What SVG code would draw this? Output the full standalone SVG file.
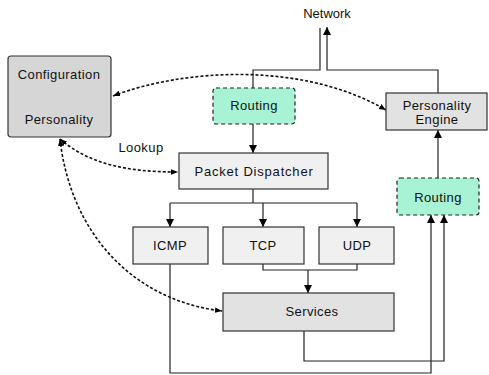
<svg xmlns="http://www.w3.org/2000/svg" width="489" height="375" viewBox="0 0 489 375">
<defs>
<marker id="ah" viewBox="0 0 10 10" refX="10" refY="5" markerWidth="8" markerHeight="8" markerUnits="userSpaceOnUse" orient="auto"><path d="M0,0 L10,5 L0,10 z" fill="#000"/></marker>
<marker id="ad" viewBox="0 0 10 10" refX="10" refY="5" markerWidth="7" markerHeight="7" markerUnits="userSpaceOnUse" orient="auto-start-reverse"><path d="M0,1 L10,5 L0,9 z" fill="#000"/></marker>
</defs>
<style>
text{font-family:"Liberation Sans",Arial,sans-serif;font-size:13px;letter-spacing:0.4px;fill:#111;text-anchor:middle}
.box{stroke:#333;stroke-width:1.2}
.g1{fill:#d6d6d6}.g2{fill:#f0f0f0}.g3{fill:#e2e2e2}
.rt{fill:#a8f2d6;stroke:#222;stroke-width:1.2;stroke-dasharray:4,3}
.ln{fill:none;stroke:#222;stroke-width:1.2}
.dl{fill:none;stroke:#111;stroke-width:1.6;stroke-dasharray:3,2}
</style>
<rect width="489" height="375" fill="#fff"/>
<g id="connectors">
<polyline class="ln" points="320,28 320,70 253,70 253,88"/>
<polyline class="ln" points="438,93 438,70 327,70 327,27" marker-end="url(#ah)"/>
<line class="ln" x1="253" y1="124" x2="253" y2="153" marker-end="url(#ah)"/>
<line class="ln" x1="438" y1="178" x2="438" y2="130" marker-end="url(#ah)"/>
<line class="ln" x1="253" y1="189" x2="253" y2="203"/>
<line class="ln" x1="170" y1="203" x2="357" y2="203"/>
<line class="ln" x1="170" y1="203" x2="170" y2="227" marker-end="url(#ah)"/>
<line class="ln" x1="263" y1="203" x2="263" y2="227" marker-end="url(#ah)"/>
<line class="ln" x1="357" y1="203" x2="357" y2="227" marker-end="url(#ah)"/>
<polyline class="ln" points="263,264 263,270 357,270 357,264"/>
<line class="ln" x1="308" y1="270" x2="308" y2="293" marker-end="url(#ah)"/>
<polyline class="ln" points="304,331 304,361 444,361 444,215" marker-end="url(#ah)"/>
<polyline class="ln" points="170,264 170,373 431,373 431,215" marker-end="url(#ah)"/>
<path class="dl" d="M113,96 C180,70 300,60 386,110" marker-start="url(#ad)" marker-end="url(#ad)"/>
<path class="dl" d="M60,139 C90,165 130,172 178,172" marker-start="url(#ad)" marker-end="url(#ad)"/>
<path class="dl" d="M60,139 C70,230 130,300 222,311" marker-start="url(#ad)" marker-end="url(#ad)"/>
</g>
<text x="327" y="18" style="letter-spacing:0">Network</text>
<text x="141" y="152">Lookup</text>
<g id="configuration"><rect class="box g1" x="8" y="56" width="103" height="81" rx="3"/><text x="59" y="79">Configuration</text><text x="59" y="124">Personality</text></g>
<g id="routing-top"><rect class="rt" x="213" y="88" width="82" height="36" rx="3"/><text x="254" y="110">Routing</text></g>
<g id="personality-engine"><rect class="box g3" x="386" y="93" width="101" height="37"/><text x="437" y="110">Personality</text><text x="437" y="124">Engine</text></g>
<g id="packet-dispatcher"><rect class="box g2" x="179" y="153" width="149" height="36"/><text x="254" y="176" style="letter-spacing:0.8px">Packet Dispatcher</text></g>
<g id="routing-right"><rect class="rt" x="397" y="178" width="82" height="37" rx="3"/><text x="438" y="202">Routing</text></g>
<g id="icmp"><rect class="box g2" x="133" y="227" width="75" height="37"/><text x="170" y="250">ICMP</text></g>
<g id="tcp"><rect class="box g2" x="223" y="227" width="81" height="37"/><text x="263" y="250">TCP</text></g>
<g id="udp"><rect class="box g2" x="319" y="227" width="75" height="37"/><text x="357" y="250">UDP</text></g>
<g id="services"><rect class="box g3" x="223" y="293" width="171" height="38"/><text x="312" y="316">Services</text></g>
</svg>
